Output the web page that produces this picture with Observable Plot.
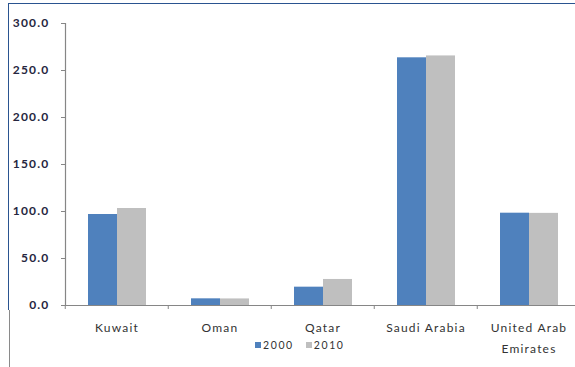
<!DOCTYPE html>
<html>
<head>
<meta charset="utf-8">
<script src="https://cdn.jsdelivr.net/npm/d3@7"></script>
<script src="https://cdn.jsdelivr.net/npm/@observablehq/plot@0.6"></script>
<style>
  body { margin: 0; background: #fff; }
  #wrap { position: relative; width: 575px; height: 367px; overflow: hidden; background: #fff; font-family: Lato, sans-serif; }
  #chart { position: absolute; left: 0; top: 0; }
  #chart svg { max-width: none !important; width: 600px !important; height: 367px !important; }
  #chart svg text { letter-spacing: 1.2px; }
  .edge-top { position: absolute; left: 8px; top: 3px; width: 600px; height: 0; border-top: 1.5px solid #2a5490; }
  .edge-left { position: absolute; left: 8px; top: 3px; width: 0; height: 307px; border-left: 1.5px solid #2a5490; }
  .edge-left2 { position: absolute; left: 9px; top: 310px; width: 0; height: 60px; border-left: 1.5px solid #8a8a8a; }
  #legend { position: absolute; left: 255px; top: 338px; display: flex; gap: 12px; font-size: 10.5px; letter-spacing: 1.6px; color: #333; line-height: 14px; }
  #legend .item { display: flex; align-items: center; gap: 2px; }
  #legend .sw { width: 6px; height: 6px; display: inline-block; }
</style>
</head>
<body>
<div id="wrap">
  <div id="chart"></div>
  <div class="edge-top"></div>
  <div class="edge-left"></div>
  <div class="edge-left2"></div>
  <div id="legend"></div>
</div>
<script>
// Gulf states, values for 2000 and 2010
const countries = ["Kuwait", "Oman", "Qatar", "Saudi Arabia", "United Arab Emirates"];
const countryLabels = ["Kuwait", "Oman", "Qatar", "Saudi Arabia", "United Arab\nEmirates"];
const years = ["2000", "2010"];
const values2000 = [96.8, 7.1, 19.5, 263.5, 98.2];
const values2010 = [103.2, 7.0, 27.7, 265.5, 98.0];
const yTicks = [0, 50, 100, 150, 200, 250, 300];

const seriesColors = ["#4f81bd", "#bfbfbf"];
const axisGray = "#868686";

const rows = countries.flatMap((c, i) => [
  {country: c, year: years[0], value: values2000[i]},
  {country: c, year: years[1], value: values2010[i]}
]);

const width = 600, marginLeft = 64, marginRight = 18.5;
const step = (width - marginLeft - marginRight) / countries.length;

const chart = Plot.plot({
  width,
  height: 367,
  marginLeft,
  marginRight,
  marginTop: 23,
  marginBottom: 62,
  style: {fontFamily: "Lato, sans-serif", fontSize: "12px", background: "transparent", overflow: "visible"},
  fx: {domain: countries, padding: 0, axis: null},
  x: {domain: years, paddingInner: 0, paddingOuter: 0.725, axis: null},
  y: {domain: [0, 300], axis: null},
  color: {domain: years, range: seriesColors},
  marks: [
    Plot.barY(rows, {fx: "country", x: "year", y: "value", fill: "year"}),
    Plot.ruleY([0], {stroke: axisGray, strokeWidth: 1.2}),
    // vertical axis line on the first panel only
    Plot.frame({anchor: "left", facetAnchor: "left", stroke: axisGray, strokeWidth: 1.2}),
    Plot.axisY({
      ticks: yTicks,
      tickFormat: d => d.toFixed(1),
      tickSize: 4,
      tickPadding: 12,
      label: null,
      stroke: axisGray,
      fill: "#262640",
      fontWeight: "bold"
    }),
    Plot.axisFx({anchor: "bottom", tickSize: 4, tickFormat: () => "", label: null, dx: -step / 2, stroke: axisGray}),
    Plot.text(countries, {
      fx: d => d,
      text: (d, i) => countryLabels[i],
      frameAnchor: "bottom",
      lineAnchor: "top",
      dy: 12,
      lineHeight: 1.72,
      fill: "#333"
    })
  ]
});
document.getElementById("chart").append(chart);

// legend below the category labels
const legend = document.getElementById("legend");
years.forEach((y, i) => {
  const item = document.createElement("span");
  item.className = "item";
  const sw = document.createElement("span");
  sw.className = "sw";
  sw.style.background = seriesColors[i];
  const label = document.createElement("span");
  label.textContent = y;
  item.append(sw, label);
  legend.append(item);
});
</script>
</body>
</html>
